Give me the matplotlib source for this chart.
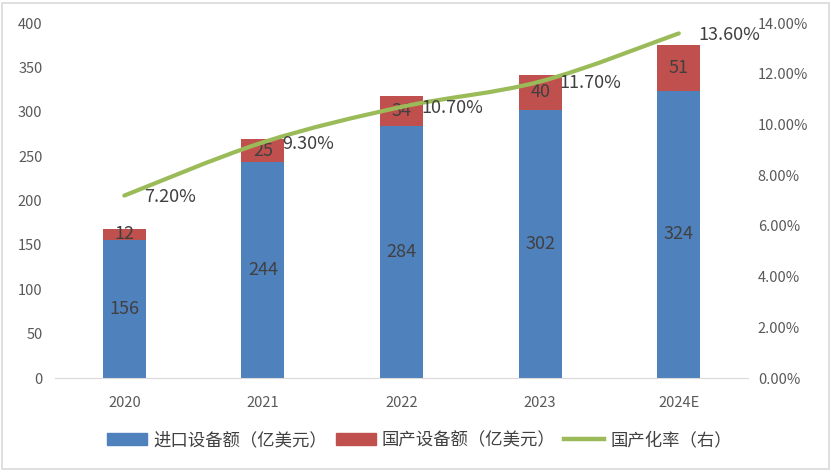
import matplotlib
matplotlib.use("Agg")
import matplotlib.pyplot as plt
from matplotlib.path import Path
from matplotlib.patches import PathPatch, Rectangle
from matplotlib.lines import Line2D
from matplotlib.patches import Patch
import numpy as np

plt.rcParams['font.family'] = ['Noto Sans CJK SC', 'DejaVu Sans']

years = ['2020', '2021', '2022', '2023', '2024E']
imported = [156, 244, 284, 302, 324]
domestic = [12, 25, 34, 40, 51]
rate = [7.20, 9.30, 10.70, 11.70, 13.60]

blue = '#4F81BD'
red = '#C0504D'
green = '#9BBB59'
txt = '#404040'
tick_c = '#595959'

fig = plt.figure(figsize=(8.31, 4.73), dpi=100)
fig.patches.append(Rectangle((0.003, 0.008), 0.994, 0.986, transform=fig.transFigure,
                             fill=False, edgecolor='#D9D9D9', linewidth=1.2))
ax = fig.add_axes([0.0662, 0.2008, 0.834, 0.750])
x = np.arange(len(years))
w = 0.31
ax.bar(x, imported, w, color=blue, zorder=2)
ax.bar(x, domestic, w, bottom=imported, color=red, zorder=2)

for i in range(len(years)):
    ax.text(x[i], imported[i] / 2, str(imported[i]), ha='center', va='center',
            fontsize=13, color=txt, zorder=5)
    ax.text(x[i], imported[i] + domestic[i] / 2, str(domestic[i]), ha='center', va='center',
            fontsize=13, color=txt, zorder=5)

ax.set_xlim(-0.5, len(years) - 0.5)
ax.set_ylim(0, 400)
ax.set_yticks(range(0, 401, 50))
ax.set_xticks(x)
ax.set_xticklabels(years)
for s in ['top', 'right', 'left']:
    ax.spines[s].set_visible(False)
ax.spines['bottom'].set_color('#D9D9D9')
ax.tick_params(axis='both', length=0, colors=tick_c, labelsize=10.5)
ax.tick_params(axis='x', pad=13)
ax.tick_params(axis='y', pad=9)
for lab in ax.get_xticklabels() + ax.get_yticklabels():
    lab.set_fontweight('medium')

ax2 = ax.twinx()
ax2.set_ylim(0, 14)
ax2.set_yticks(np.arange(0, 14.1, 2))
ax2.set_yticklabels([f'{v:.2f}%' for v in np.arange(0, 14.1, 2)])
for s in ax2.spines.values():
    s.set_visible(False)
ax2.tick_params(axis='y', length=0, colors=tick_c, labelsize=10.5, pad=7)
for lab in ax2.get_yticklabels():
    lab.set_fontweight('medium')

# smoothed line (Catmull-Rom style Bezier through the points)
pts = np.column_stack([x, rate]).astype(float)
verts = [tuple(pts[0])]
codes = [Path.MOVETO]
t = 1 / 6
for i in range(len(pts) - 1):
    p0 = pts[i - 1] if i > 0 else pts[i]
    p1 = pts[i]
    p2 = pts[i + 1]
    p3 = pts[i + 2] if i + 2 < len(pts) else pts[i + 1]
    c1 = p1 + (p2 - p0) * t
    c2 = p2 - (p3 - p1) * t
    verts += [tuple(c1), tuple(c2), tuple(p2)]
    codes += [Path.CURVE4] * 3
ax2.add_patch(PathPatch(Path(verts, codes), fill=False, edgecolor=green,
                        linewidth=3.0, capstyle='round', zorder=4))
for i in range(len(years)):
    ax2.annotate(f'{rate[i]:.2f}%', (x[i], rate[i]), xytext=(14, -1),
                 textcoords='offset points', ha='left', va='center',
                 fontsize=13, color=txt, zorder=6)

handles = [Patch(color=blue), Patch(color=red), Line2D([0], [0], color=green, linewidth=3.2)]
labels = ['进口设备额（亿美元）', '国产设备额（亿美元）', '国产化率（右）']
fig.legend(handles, labels, loc='center', bbox_to_anchor=(0.505, 0.070), ncol=3,
           frameon=False, fontsize=12.5, handlelength=2.3, handleheight=0.65,
           columnspacing=0.5, handletextpad=0.35, labelcolor=txt)

fig.savefig('out.png', dpi=100)
